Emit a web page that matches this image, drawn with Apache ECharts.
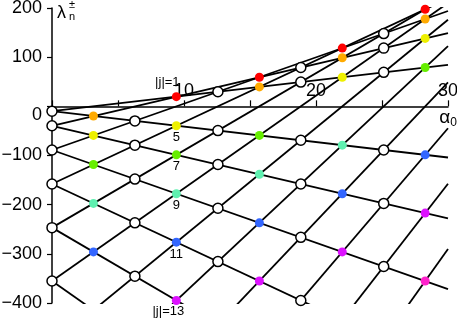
<!DOCTYPE html>
<html>
<head>
<meta charset="utf-8">
<script src="https://cdn.jsdelivr.net/npm/echarts@6/dist/echarts.min.js"></script>
<style>
  html, body { margin: 0; padding: 0; background: #fff; }
  #chart { width: 457px; height: 320px; }
</style>
</head>
<body>
<div id="chart"></div>
<script>
// straight lines lambda(alpha0): value at alpha0 = 0 and at alpha0 = 30
const lineX = [0, 30]
const lineYAt0 = [-9.9, -39.5, -88.8, -157.9, -246.7, -355.3, -483.6, -631.7, -799.4, -987.0, -1194.2, -1421.2,
  -9.9, -39.5, -88.8, -157.9, -246.7, -355.3]
const lineYAt30 = [84.4, 149.0, 193.9, 219.1, 224.5, 210.2, 176.1, 122.3, 48.8, -44.5, -157.5, -290.3,
  -104.1, -228.0, -371.6, -534.9, -718.0, -920.8]

// crossing points, open circles
const openPts = [
  [0, -9.9], [0, -39.5], [0, -88.8], [0, -157.9], [0, -246.7], [0, -355.3],
  [6.28, -29.6], [6.28, -79.0], [6.28, -148.0], [6.28, -236.9], [6.28, -345.4],
  [12.57, 29.6], [12.57, -49.3], [12.57, -118.4], [12.57, -207.3], [12.57, -315.8],
  [18.85, 79.0], [18.85, 49.3], [18.85, -69.1], [18.85, -157.9], [18.85, -266.5], [18.85, -394.8],
  [25.13, 148.0], [25.13, 118.4], [25.13, 69.1], [25.13, -88.8], [25.13, -197.4], [25.13, -325.7]
]

// crossing points, filled by |j|
const jColors = ['#ff0000', '#ffaa00', '#eef000', '#66ee00', '#5ff0b0', '#3366ff', '#dd11ff', '#ff22cc']
const jNames = ['|j|=1', '', '5', '7', '9', '11', '|j|=13', '']
const jPts = [
  [[9.42, 19.7], [15.71, 59.2], [21.99, 118.4], [28.27, 197.4]],
  [[3.14, -19.7], [15.71, 39.5], [21.99, 98.7], [28.27, 177.7]],
  [[3.14, -59.2], [9.42, -39.5], [21.99, 59.2], [28.27, 138.2]],
  [[3.14, -118.4], [9.42, -98.7], [15.71, -59.2], [28.27, 79.0]],
  [[3.14, -197.4], [9.42, -177.7], [15.71, -138.2], [21.99, -79.0]],
  [[3.14, -296.1], [9.42, -276.3], [15.71, -236.9], [21.99, -177.7], [28.27, -98.7]],
  [[9.42, -394.8], [15.71, -355.3], [21.99, -296.1], [28.27, -217.1]],
  [[28.27, -355.3]]
]

const yTicks = [200, 100, 0, -100, -200, -300, -400]
const xLabels = [10, 20, 30]

const font = 'Liberation Sans, Arial, sans-serif'
const gridTop = 8
const gridBottom = 17
const chartH = 320
const yMin = -400
const yMax = 200

const chart = echarts.init(document.getElementById('chart'), null, { renderer: 'canvas' })

// move the x axis up from the grid bottom to lambda = 0
const plotH = chartH - gridTop - gridBottom
const zeroShift = -plotH * (0 - yMin) / (yMax - yMin)

const series = []
lineYAt0.forEach((y0, i) => {
  series.push({
    type: 'line',
    data: [[lineX[0], y0], [lineX[1], lineYAt30[i]]],
    symbol: 'none',
    clip: true,
    silent: true,
    z: 2,
    lineStyle: { color: '#000', width: 1.8 }
  })
})

series.push({
  type: 'scatter',
  data: openPts,
  symbol: 'circle',
  symbolSize: 10,
  z: 5,
  itemStyle: { color: '#fff', borderColor: '#000', borderWidth: 1.5, opacity: 1 }
})

jPts.forEach((pts, k) => {
  series.push({
    type: 'scatter',
    symbolSize: 9,
    z: 6,
    itemStyle: { color: jColors[k], opacity: 1 },
    data: pts.map(p => {
      if (p[0] !== 9.42 || !jNames[k]) return p
      let lab
      if (k === 0) {
        lab = { show: true, position: 'top', offset: [-9, 2], formatter: jNames[k] }
      } else if (k === 6) {
        lab = { show: true, position: 'bottom', distance: 1, offset: [-8, -1], formatter: jNames[k] }
      } else {
        lab = { show: true, position: 'bottom', distance: 1, formatter: jNames[k] }
      }
      return { value: p, label: Object.assign(lab, { color: '#000', fontSize: 13, fontFamily: font }) }
    })
  })
})

const option = {
  animation: false,
  backgroundColor: '#fff',
  grid: { left: 52, right: 9, top: gridTop, bottom: gridBottom, containLabel: false, outerBoundsMode: 'none' },
  xAxis: {
    type: 'value',
    min: 0,
    max: 30,
    interval: 5,
    position: 'bottom',
    offset: zeroShift,
    splitLine: { show: false },
    axisLine: { onZero: false, lineStyle: { color: '#000', width: 1.5 } },
    axisTick: { inside: true, length: 6, lineStyle: { color: '#000', width: 1.2 } },
    axisLabel: {
      inside: true,
      margin: 6,
      color: '#000',
      fontSize: 18,
      fontFamily: font,
      formatter: v => (xLabels.includes(v) ? String(v) : '')
    },
    name: '{a|α}{s|0}',
    nameLocation: 'end',
    nameGap: 9,
    nameTextStyle: {
      align: 'right',
      verticalAlign: 'top',
      padding: [0, 0, 0, 0],
      rich: {
        a: { fontSize: 19, fontFamily: font, color: '#000' },
        s: { fontSize: 12, fontFamily: font, color: '#000', padding: [10, 0, 0, 0] }
      }
    }
  },
  yAxis: {
    type: 'value',
    min: yMin,
    max: yMax,
    interval: 100,
    splitLine: { show: false },
    axisLine: { onZero: false, lineStyle: { color: '#000', width: 1.5 } },
    axisTick: { length: 5, lineStyle: { color: '#000', width: 1.2 } },
    axisLabel: {
      margin: 10,
      color: '#000',
      fontSize: 18,
      fontFamily: font,
      formatter: v => {
        if (!yTicks.includes(v)) return ''
        if (v === 0) return '{z|0}'
        return String(v).replace('-', '\u2212')
      },
      rich: {
        z: { fontSize: 18, fontFamily: font, color: '#000', padding: [18, 0, 0, 0] }
      }
    }
  },
  graphic: [
    { type: 'text', left: 57, top: 4, style: { text: 'λ', fontSize: 18, fontFamily: font, fill: '#000' } },
    { type: 'text', left: 69, top: -1, style: { text: '±', fontSize: 11, fontFamily: font, fill: '#000' } },
    { type: 'text', left: 69, top: 11, style: { text: 'n', fontSize: 11, fontFamily: font, fill: '#000' } }
  ],
  series: series
}

chart.setOption(option)
</script>
</body>
</html>
